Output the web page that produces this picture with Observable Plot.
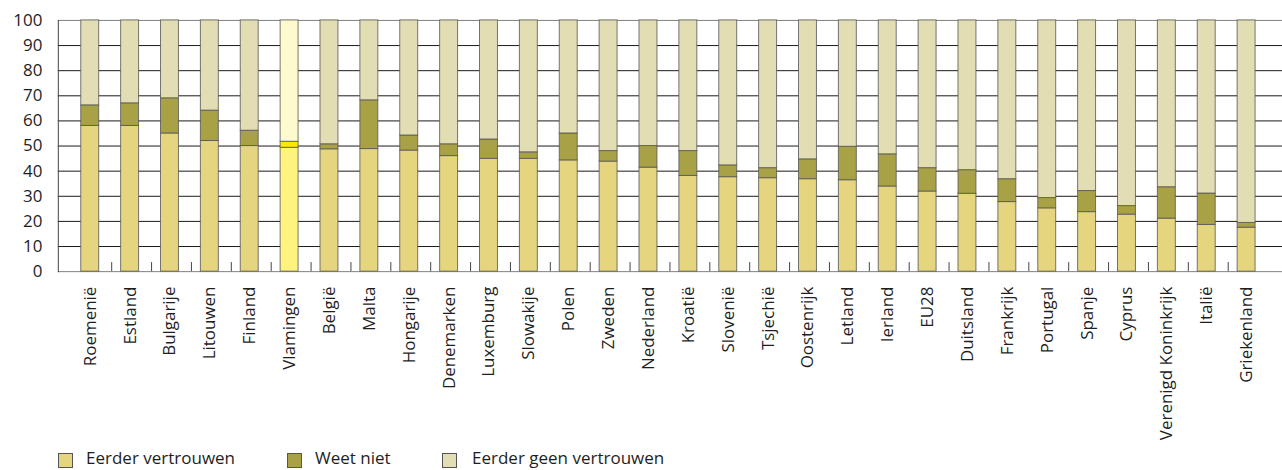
<!DOCTYPE html>
<html>
<head>
<meta charset="utf-8">
<script src="https://cdn.jsdelivr.net/npm/d3@7"></script>
<script src="https://cdn.jsdelivr.net/npm/@observablehq/plot@0.6"></script>
<style>
  html, body { margin: 0; padding: 0; background: #fff; overflow: hidden; }
  #wrap { position: relative; width: 1282px; height: 470px; overflow: hidden; font-family: "Open Sans", sans-serif; }
  #legend { position: absolute; left: 58px; top: 452px; height: 16px; font-size: 17px; color: #1e1e1e; }
  .item { position: absolute; top: 0; white-space: nowrap; }
  .sw { position: absolute; left: 0; top: 1px; width: 15px; height: 15px; border: 1px solid #555; box-sizing: border-box; }
  .lab { position: absolute; top: -4px; white-space: nowrap; line-height: 20px; }
</style>
</head>
<body>
<div id="wrap"><div id="chart"></div><div id="legend"></div></div>
<script>
const landen = ["Roemenië","Estland","Bulgarije","Litouwen","Finland","Vlamingen","België","Malta","Hongarije","Denemarken","Luxemburg","Slowakije","Polen","Zweden","Nederland","Kroatië","Slovenië","Tsjechië","Oostenrijk","Letland","Ierland","EU28","Duitsland","Frankrijk","Portugal","Spanje","Cyprus","Verenigd Koninkrijk","Italië","Griekenland"];
const eerderVertrouwen = [58,58,55,52,50,49.3,48.7,48.8,48.2,46,44.9,44.9,44.3,43.8,41.4,38.1,37.6,37.2,36.8,36.4,33.9,31.9,31,27.7,25.2,23.7,22.7,21.1,18.6,17.5];
const weetNiet = [8.2,9,14,12.1,6.1,2.4,2,19.4,6,4.7,7.7,2.6,10.7,4.2,8.6,9.9,4.7,4,7.9,13.3,12.8,9.3,9.4,9.1,4.1,8.4,3.4,12.5,12.5,1.9];
const eerderGeenVertrouwen = [33.8,33,31,35.9,43.9,48.3,49.3,31.8,45.8,49.3,47.4,52.5,45,52,50,52,57.7,58.8,55.3,50.3,53.3,58.8,59.6,63.2,70.7,67.9,73.9,66.4,68.9,80.6];
const reeksen = ["Eerder vertrouwen","Weet niet","Eerder geen vertrouwen"];
const kleuren = ["#E5D57F","#A9A146","#E3DDB3"];
const kleurenVlaams = ["#FFF380","#FFE800","#FFFACD"];
const yTicks = [0,10,20,30,40,50,60,70,80,90,100];
const uitgelicht = "Vlamingen";

const reeksWaarden = [eerderVertrouwen, weetNiet, eerderGeenVertrouwen];
const rows = [];
landen.forEach((land, i) => {
  reeksen.forEach((r, j) => {
    rows.push({land, reeks: r, waarde: reeksWaarden[j][i], key: (land === uitgelicht ? "vl|" : "") + r});
  });
});
const colorDomain = reeksen.concat(reeksen.map(r => "vl|" + r));
const colorRange = kleuren.concat(kleurenVlaams);

const chart = Plot.plot({
  width: 1286,
  height: 450,
  marginLeft: 58,
  marginRight: 0,
  marginTop: 20,
  marginBottom: 178,
  style: {fontFamily: "'Open Sans', sans-serif", fontSize: "17px", color: "#1e1e1e", background: "transparent"},
  x: {domain: landen, paddingInner: 0.56, paddingOuter: 0.28, label: null},
  y: {domain: [0, 100], ticks: yTicks, label: null},
  color: {domain: colorDomain, range: colorRange},
  marks: [
    Plot.ruleY(yTicks.filter(t => t > 0 && t < 100), {stroke: "#1a1a1a", strokeWidth: 1}),
    Plot.ruleY([0, 100], {stroke: "#808080", strokeWidth: 1}),
    Plot.ruleX(landen.slice(1), {x: d => d, y1: 0, y2: 3.6, dx: -20.46, stroke: "#444"}),
    Plot.barY(rows, {x: "land", y: "waarde", z: "reeks", fill: "key", stroke: "#555", strokeOpacity: 0.8, strokeWidth: 1, dx: -2}),
    Plot.frame({anchor: "left", stroke: "#444"}),
    Plot.axisY({ticks: yTicks, tickSize: 0, tickPadding: 16, fontSize: 17, label: null}),
    Plot.axisX({tickSize: 0, tickPadding: 15, tickRotate: -90, fontSize: 17, label: null, dx: -2})
  ]
});
document.getElementById("chart").appendChild(chart);

const legend = document.getElementById("legend");
const posities = [0, 229, 384];
const labelOffsets = [28, 28, 30];
reeksen.forEach((r, j) => {
  const it = document.createElement("div");
  it.className = "item";
  it.style.left = posities[j] + "px";
  const sw = document.createElement("div");
  sw.className = "sw";
  sw.style.background = kleuren[j];
  const lab = document.createElement("div");
  lab.className = "lab";
  lab.style.left = labelOffsets[j] + "px";
  lab.textContent = r;
  it.appendChild(sw);
  it.appendChild(lab);
  legend.appendChild(it);
});
</script>
</body>
</html>
